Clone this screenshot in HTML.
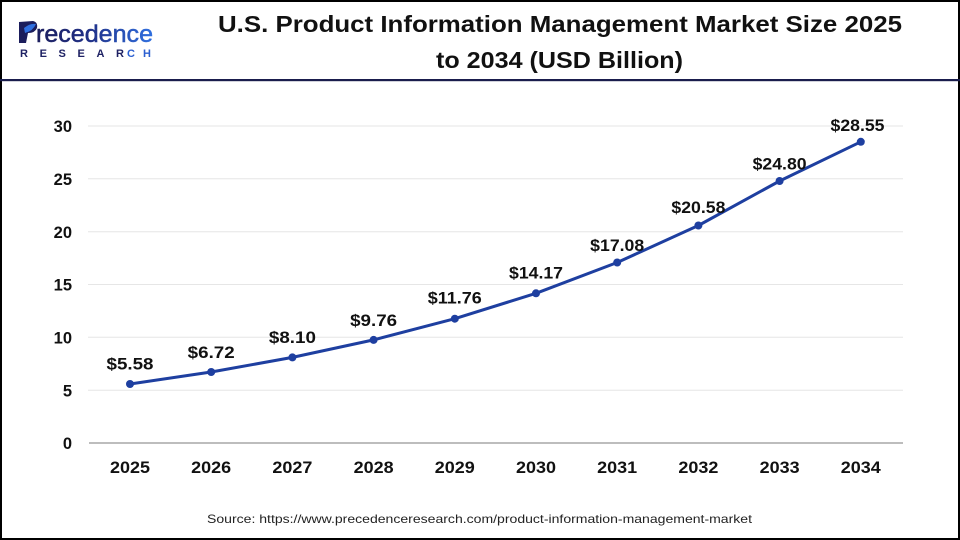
<!DOCTYPE html>
<html>
<head>
<meta charset="utf-8">
<style>
  html, body { margin:0; padding:0; background:#fff; }
  body { width:960px; height:540px; overflow:hidden; }
  svg { display:block; }
</style>
</head>
<body>
<svg width="960" height="540" viewBox="0 0 960 540" xmlns="http://www.w3.org/2000/svg">
  <defs>
    <linearGradient id="lg" x1="0" y1="0" x2="1" y2="0">
      <stop offset="0" stop-color="#1b1d5c"/>
      <stop offset="0.45" stop-color="#1f2f86"/>
      <stop offset="1" stop-color="#2f6fe0"/>
    </linearGradient>
  </defs>
  <rect x="0" y="0" width="960" height="540" fill="#fff"/>
  <!-- frame -->
  <rect x="1" y="1" width="958" height="538" fill="none" stroke="#000" stroke-width="2"/>
  <!-- header separator -->
  <rect x="0" y="79" width="960" height="2.2" fill="#1a1d4d"/>

  <!-- logo -->
  <g font-family="Liberation Sans, sans-serif">
    <path d="M19 22 L33 21 Q38 22 37 28 Q35 33 28 33 L26 43 L19 43 Z" fill="#1b1d5c"/>
    <path d="M24 28 Q30 23 36 24 Q33 31 25 33 Z" fill="#2f6fe0"/>
    <text x="36" y="42" font-size="24" fill="url(#lg)" stroke="url(#lg)" stroke-width="0.5" textLength="117" lengthAdjust="spacingAndGlyphs">recedence</text>
    <text x="20" y="57" font-size="11" font-weight="bold" fill="#1e2163" textLength="104" lengthAdjust="spacing">RESEAR</text>
    <text x="127" y="57" font-size="11" font-weight="bold" fill="#2b5fd0" textLength="24" lengthAdjust="spacing">CH</text>
  </g>

  <!-- title -->
  <g font-family="Liberation Sans, sans-serif" font-weight="bold" fill="#111">
    <text x="218" y="32" font-size="23" textLength="684" lengthAdjust="spacingAndGlyphs">U.S. Product Information Management Market Size 2025</text>
    <text x="436" y="68" font-size="23" textLength="247" lengthAdjust="spacingAndGlyphs">to 2034 (USD Billion)</text>
  </g>

  <!-- gridlines -->
  <g stroke="#e6e6e6" stroke-width="1">
    <line x1="88" y1="126" x2="903" y2="126"/>
    <line x1="88" y1="178.8" x2="903" y2="178.8"/>
    <line x1="88" y1="231.7" x2="903" y2="231.7"/>
    <line x1="88" y1="284.5" x2="903" y2="284.5"/>
    <line x1="88" y1="337.3" x2="903" y2="337.3"/>
    <line x1="88" y1="390.2" x2="903" y2="390.2"/>
  </g>
  <line x1="89" y1="443" x2="903" y2="443" stroke="#bdbdbd" stroke-width="2"/>

  <!-- y tick labels -->
  <g font-family="Liberation Sans, sans-serif" font-weight="bold" font-size="16.5" fill="#111" text-anchor="end">
    <text x="72" y="132">30</text>
    <text x="72" y="185">25</text>
    <text x="72" y="238">20</text>
    <text x="72" y="290.5">15</text>
    <text x="72" y="343.5">10</text>
    <text x="72" y="396.5">5</text>
    <text x="72" y="449">0</text>
  </g>

  <!-- x tick labels -->
  <g font-family="Liberation Sans, sans-serif" font-weight="bold" font-size="16.5" fill="#111" text-anchor="middle">
    <text x="130" y="473" textLength="40" lengthAdjust="spacingAndGlyphs">2025</text>
    <text x="211.2" y="473" textLength="40" lengthAdjust="spacingAndGlyphs">2026</text>
    <text x="292.4" y="473" textLength="40" lengthAdjust="spacingAndGlyphs">2027</text>
    <text x="373.6" y="473" textLength="40" lengthAdjust="spacingAndGlyphs">2028</text>
    <text x="454.8" y="473" textLength="40" lengthAdjust="spacingAndGlyphs">2029</text>
    <text x="536" y="473" textLength="40" lengthAdjust="spacingAndGlyphs">2030</text>
    <text x="617.2" y="473" textLength="40" lengthAdjust="spacingAndGlyphs">2031</text>
    <text x="698.4" y="473" textLength="40" lengthAdjust="spacingAndGlyphs">2032</text>
    <text x="779.6" y="473" textLength="40" lengthAdjust="spacingAndGlyphs">2033</text>
    <text x="860.8" y="473" textLength="40" lengthAdjust="spacingAndGlyphs">2034</text>
  </g>

  <!-- series line -->
  <polyline fill="none" stroke="#1e3fa0" stroke-width="3" stroke-linejoin="round" stroke-linecap="round"
    points="130,384 211.2,372 292.4,357.4 373.6,339.9 454.8,318.7 536,293.3 617.2,262.5 698.4,225.5 779.6,181 860.8,141.8"/>
  <g fill="#1e3fa0">
    <circle cx="130" cy="384" r="4"/>
    <circle cx="211.2" cy="372" r="4"/>
    <circle cx="292.4" cy="357.4" r="4"/>
    <circle cx="373.6" cy="339.9" r="4"/>
    <circle cx="454.8" cy="318.7" r="4"/>
    <circle cx="536" cy="293.3" r="4"/>
    <circle cx="617.2" cy="262.5" r="4"/>
    <circle cx="698.4" cy="225.5" r="4"/>
    <circle cx="779.6" cy="181" r="4"/>
    <circle cx="860.8" cy="141.8" r="4"/>
  </g>

  <!-- value labels -->
  <g font-family="Liberation Sans, sans-serif" font-weight="bold" font-size="16.5" fill="#111" text-anchor="middle">
    <text x="130" y="369.5" textLength="47" lengthAdjust="spacingAndGlyphs">$5.58</text>
    <text x="211.2" y="358" textLength="47" lengthAdjust="spacingAndGlyphs">$6.72</text>
    <text x="292.4" y="343" textLength="47" lengthAdjust="spacingAndGlyphs">$8.10</text>
    <text x="373.6" y="326" textLength="47" lengthAdjust="spacingAndGlyphs">$9.76</text>
    <text x="454.8" y="303.5" textLength="54" lengthAdjust="spacingAndGlyphs">$11.76</text>
    <text x="536" y="278.5" textLength="54" lengthAdjust="spacingAndGlyphs">$14.17</text>
    <text x="617.2" y="251" textLength="54" lengthAdjust="spacingAndGlyphs">$17.08</text>
    <text x="698.4" y="213" textLength="54" lengthAdjust="spacingAndGlyphs">$20.58</text>
    <text x="779.6" y="169.5" textLength="54" lengthAdjust="spacingAndGlyphs">$24.80</text>
    <text x="857.5" y="131" textLength="54" lengthAdjust="spacingAndGlyphs">$28.55</text>
  </g>

  <!-- source -->
  <text x="207" y="523" font-family="Liberation Sans, sans-serif" font-size="12" fill="#222" textLength="545" lengthAdjust="spacingAndGlyphs">Source: https://www.precedenceresearch.com/product-information-management-market</text>
</svg>
</body>
</html>
